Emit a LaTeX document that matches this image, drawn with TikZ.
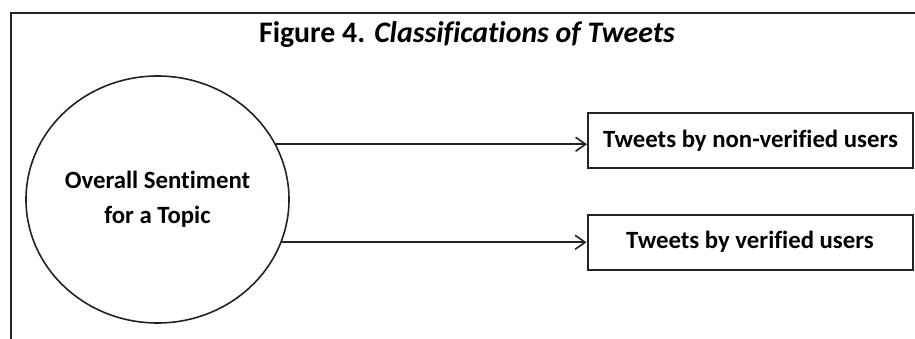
\documentclass[tikz,border=0pt]{standalone}
\usepackage{fontspec}
\setmainfont{Carlito}[Ligatures=NoCommon]
\usetikzlibrary{shapes.geometric,arrows.meta}
\definecolor{ink}{HTML}{222222}
\begin{document}
\begin{tikzpicture}[x=1pt,y=-1pt,
  boxstyle/.style={draw=ink,line width=2pt,minimum width=325pt,minimum height=55pt,inner sep=0pt,font=\fontsize{24.8}{28}\selectfont\bfseries},
  arr/.style={draw=ink,line width=1.6pt,-{Straight Barb[length=10pt,width=14pt,line width=1.6pt]}}]
\useasboundingbox (0,0) rectangle (915,339);
\draw[ink,line width=2pt] (10.5,339) -- (10.5,13) -- (915,13);
\node[anchor=base,font=\fontsize{29.8}{34}\selectfont\bfseries] (title) at (467,43) {Figure 4. \textit{Classifications of Tweets}};
\node[ellipse,draw=ink,line width=1.6pt,minimum width=263pt,minimum height=247pt,inner sep=0pt,align=center,font=\fontsize{24.8}{35}\selectfont\bfseries] (circ) at (157.5,199.5) {Overall Sentiment\\for a Topic};
\node[boxstyle] (b1) at (750.5,140.5) {Tweets by non-verified users};
\node[boxstyle] (b2) at (750,242) {Tweets by verified users};
\draw[arr] (circ.25.3) -- (circ.25.3 -| b1.west);
\draw[arr] (circ.-19) -- (circ.-19 -| b2.west);
\end{tikzpicture}
\end{document}
